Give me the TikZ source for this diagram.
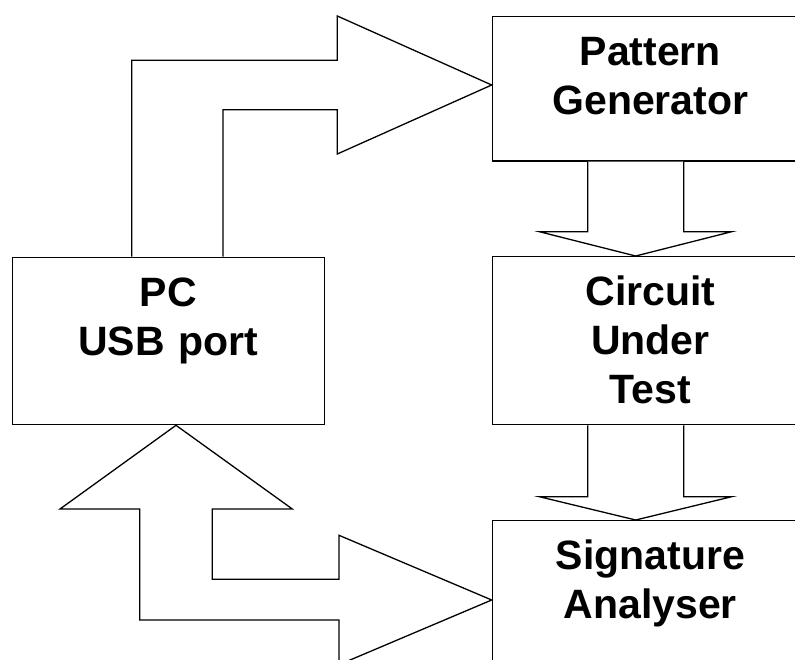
\documentclass[tikz,border=0pt]{standalone}
\usepackage{fontspec}
\setmainfont{Liberation Sans}
\usetikzlibrary{calc}
\begin{document}
\begin{tikzpicture}[x=1pt,y=-1pt,
  box/.style={draw, line width=1.3pt, inner sep=0pt, anchor=north west,
    align=center, font=\bfseries\fontsize{41}{49}\selectfont, text height=49pt},
  blockarrow/.style={draw, line width=1.3pt, line join=miter, fill=white}]
\useasboundingbox (0,0) rectangle (795,660);
\clip (0,0) rectangle (795,660);

% blocks
\node[box, text width=312pt, text depth=118.3pt] (pc)  at (11.7,256.7) {PC\\USB port};
\node[box, text width=316pt, text depth=95.3pt]  (pg)  at (491.7,16)   {Pattern\\Generator};
\node[box, text width=316pt, text depth=119pt]   (cut) at (491.7,256)  {Circuit\\Under\\Test};
\node[box, text width=316pt, text depth=101pt]   (sa)  at (491.7,520)  {Signature\\Analyser};

% arrow tips on the block borders
\coordinate (pgtip)  at ($(pg.north west)+(0,69)$);
\coordinate (cuttip) at (635.7,0 |- cut.north);
\coordinate (satip)  at (635.7,0 |- sa.north);
\coordinate (pctip)  at (176,0 |- pc.south);
\coordinate (satip2) at ($(sa.north west)+(0,80)$);

% PC -> Pattern Generator
\draw[blockarrow] (131.7,0 |- pc.north) |- (337.3,60.3) -- (337.3,16) -- (pgtip)
  -- (337.3,154) -- (337.3,109.7) -| (223,0 |- pc.north);

% Pattern Generator -> Circuit Under Test
\draw[blockarrow] (587.7,0 |- pg.south) -- (587.7,231.7) -- (539.3,231.7) -- (cuttip)
  -- (731.7,231.7) -- (683.7,231.7) -- (683.7,0 |- pg.south);

% Circuit Under Test -> Signature Analyser
\draw[blockarrow] (587.7,0 |- cut.south) -- (587.7,496.7) -- (539.3,496.7) -- (satip)
  -- (731.7,496.7) -- (683.7,496.7) -- (683.7,0 |- cut.south);

% PC <-> Signature Analyser
\draw[blockarrow] (pctip) -- (292.3,509) -- (212.3,509) |- (339,579.3) -- (339,535.3)
  -- (satip2) -- (339,664.7) -- (339,620) -| (139.7,509) -- (60,509) -- cycle;
\end{tikzpicture}
\end{document}
